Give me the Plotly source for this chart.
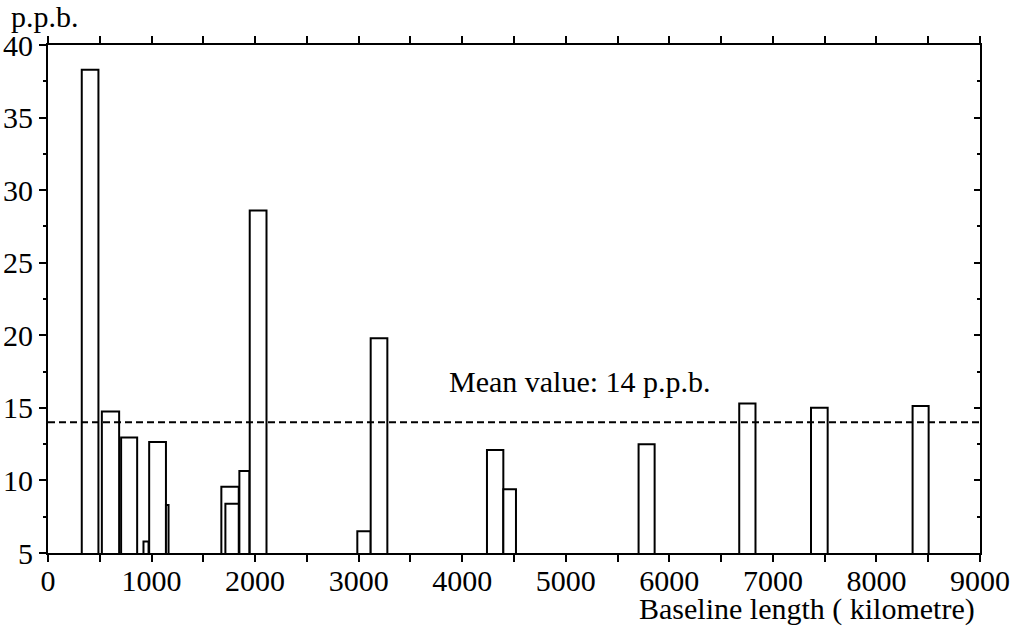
import plotly.graph_objects as go

# Baseline length intervals (km) and values (p.p.b.)
baseline_start = [326, 520, 706, 922, 977, 1139, 1674, 1713, 1848, 1948,
                  2987, 3116, 4239, 4397, 5703, 6675, 7368, 8349]
baseline_end = [487, 687, 861, 971, 1139, 1164, 1842, 1842, 1945, 2110,
                3116, 3277, 4397, 4519, 5858, 6832, 7529, 8504]
ppb = [38.3, 14.75, 12.95, 5.8, 12.65, 8.3, 9.57, 8.4, 10.65, 28.6,
       6.5, 19.8, 12.1, 9.4, 12.5, 15.3, 15.0, 15.13]
mean_value = 14

x_ticks = [0, 1000, 2000, 3000, 4000, 5000, 6000, 7000, 8000, 9000]
y_ticks = [5, 10, 15, 20, 25, 30, 35, 40]

centers = [(a + b) / 2 for a, b in zip(baseline_start, baseline_end)]
widths = [b - a for a, b in zip(baseline_start, baseline_end)]

FONT = "Liberation Serif, Times New Roman, serif"
FS = 30

PL, PR, PT, PB = 48, 980, 45, 553  # plot area in page pixels
PW, PH = PR - PL, PB - PT


def px(x):
    return (x - PL) / PW


def py(y):
    return (PB - y) / PH


fig = go.Figure()
fig.add_trace(go.Bar(
    x=centers, y=ppb, width=widths, base=0,
    marker=dict(color="white", line=dict(color="black", width=2)),
    showlegend=False, hoverinfo="x+y",
))
fig.add_trace(go.Scatter(
    x=[0, 9000], y=[mean_value, mean_value], mode="lines",
    line=dict(color="black", width=2, dash="7px,4px"),
    showlegend=False, hoverinfo="skip",
))
# invisible trace for right-hand axis with inward ticks
fig.add_trace(go.Scatter(x=[0], y=[5], yaxis="y2", mode="markers",
                         marker=dict(opacity=0), showlegend=False, hoverinfo="skip"))

fig.update_layout(
    width=1024, height=632,
    margin=dict(l=PL, r=1024 - PR, t=PT, b=632 - PB, autoexpand=False),
    plot_bgcolor="white", paper_bgcolor="white",
    barmode="overlay",
    font=dict(family=FONT, size=FS, color="black"),
    xaxis=dict(
        range=[0, 9000], tickvals=x_ticks, ticktext=[str(v) for v in x_ticks],
        ticks="outside", ticklen=7, tickwidth=2, tickcolor="black",
        ticklabelstandoff=-7,
        minor=dict(dtick=500, tick0=0, ticks="outside", ticklen=3, tickwidth=2, tickcolor="black"),
        showline=True, linecolor="black", linewidth=2, mirror="allticks",
        showgrid=False, zeroline=False, automargin=False,
        tickfont=dict(family=FONT, size=FS, color="black"),
    ),
    yaxis=dict(
        range=[5, 40], tickvals=y_ticks, ticktext=[str(v) for v in y_ticks],
        ticks="outside", ticklen=7, tickwidth=2, tickcolor="black",
        minor=dict(dtick=2.5, tick0=5, ticks="outside", ticklen=3, tickwidth=2, tickcolor="black"),
        showline=True, linecolor="black", linewidth=2, mirror=True,
        showgrid=False, zeroline=False, automargin=False,
        tickfont=dict(family=FONT, size=FS, color="black"),
    ),
    yaxis2=dict(
        range=[5, 40], overlaying="y", side="right", tickvals=y_ticks,
        showticklabels=False, ticks="inside", ticklen=6, tickwidth=2, tickcolor="black",
        minor=dict(dtick=2.5, tick0=5, ticks="inside", ticklen=3, tickwidth=2, tickcolor="black"),
        showline=False, showgrid=False, zeroline=False, automargin=False,
    ),
    annotations=[
        dict(text="p.p.b.", xref="paper", yref="paper",
             x=px(9), y=py(16), xanchor="left", yanchor="middle",
             showarrow=False, font=dict(family=FONT, size=FS, color="black")),
        dict(text="Mean value: 14 p.p.b.", xref="x", yref="y",
             x=3850, y=16.8, xanchor="left", yanchor="middle",
             showarrow=False, font=dict(family=FONT, size=FS, color="black")),
        dict(text="Baseline length ( kilometre)", xref="paper", yref="paper",
             x=px(977), y=py(609), xanchor="right", yanchor="middle",
             showarrow=False, font=dict(family=FONT, size=FS, color="black")),
    ],
)

fig.write_html("out.html", config={"displayModeBar": False},
               post_script="document.body.style.margin='0';document.body.style.padding='0';")
